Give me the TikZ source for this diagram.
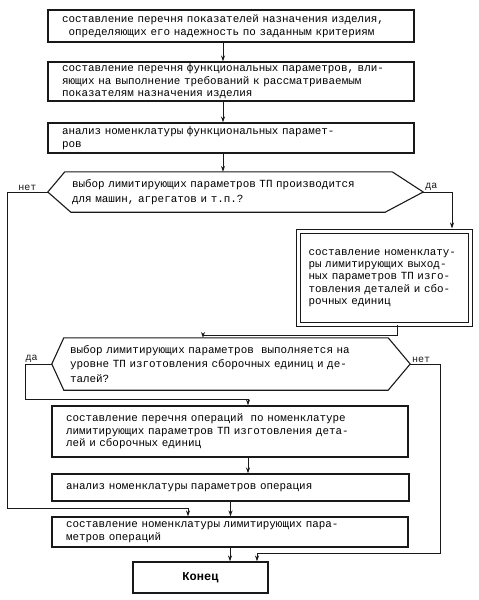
\documentclass[tikz,border=0pt]{standalone}
\usepackage{fontspec}
\setmainfont{Liberation Mono}
\usepackage{tikz}
\usetikzlibrary{arrows.meta, positioning, calc}
\definecolor{myink}{RGB}{25,25,25}
\tikzset{
  block/.style={rectangle, draw=myink, align=left, inner xsep=14pt, inner ysep=2pt,
    font=\fontsize{10.9}{12.5}\selectfont, line width=1.1pt},
  dblock/.style={rectangle, draw=myink, double, double distance=3pt,
    line width=1pt, align=left, inner xsep=10pt,
    font=\fontsize{10.9}{12.2}\selectfont},
  choice/.style={rectangle, align=left, inner xsep=7pt,
    font=\fontsize{10.9}{14.5}\selectfont},
  endblock/.style={rectangle, draw=myink, line width=1.1pt,
    font=\fontsize{12}{14}\selectfont\bfseries},
  hexline/.style={line width=1.1pt, color=myink},
  arrow/.style={-{Stealth[length=6pt,width=4pt]}, line width=0.9pt, color=myink},
  tag/.style={font=\fontsize{10}{12}\selectfont, inner sep=1pt}
}

\begin{document}
\begin{tikzpicture}[x=1pt, y=-1pt]
  \useasboundingbox (0,0) rectangle (479,600);

  % Main steps
  \node[block, text width=338pt, minimum height=32pt] (b1) at (231,26)
    {составление перечня показателей назначения изделия,\\
     \hspace*{6.5pt}определяющих его надежность по заданным критериям};
  \node[block, text width=338pt, minimum height=37pt] (b2) at (231,81.5)
    {составление перечня функциональных параметров, вли-\\
     яющих на выполнение требований к рассматриваемым\\
     показателям назначения изделия};
  \node[block, text width=338pt, minimum height=30pt] (b3) at (231,138)
    {анализ номенклатуры функциональных парамет-\\ров};

  % First choice
  \node[choice, text width=313pt, minimum height=40pt] (d1) at (228.5,192)
    {выбор лимитирующих параметров ТП производится\\
     для машин, агрегатов и т.п.?};
  \coordinate (d1l) at ([xshift=-17pt]d1.west);
  \coordinate (d1r) at ([xshift=31pt]d1.east);
  \draw[hexline] (d1.north west) -- (d1.north east) -- (d1r)
    -- ([xshift=-7pt]d1.south east) -- ([xshift=6pt]d1.south west) -- (d1l) -- cycle;

  \node[dblock, text width=152pt, minimum height=93pt] (b4) at (384.5,278)
    {составление номенклату-\\
     ры лимитирующих выход-\\
     ных параметров ТП изго-\\
     товления деталей и сбо-\\
     рочных единиц};

  % Second choice
  \node[choice, text width=312pt, inner xsep=6pt, minimum height=52pt] (d2) at (226,364)
    {выбор лимитирующих параметров\ \ выполняется на\\
     уровне ТП изготовления сборочных единиц и де-\\
     талей?};
  \coordinate (d2l) at ([xshift=-12pt]d2.west);
  \coordinate (d2r) at ([xshift=22pt]d2.east);
  \draw[hexline] (d2.north west) -- (d2.north east) -- (d2r)
    -- (d2.south east) -- (d2.south west) -- (d2l) -- cycle;

  \node[block, text width=328pt, minimum height=51pt] (b5) at (230,431.5)
    {составление перечня операций\ \ по номенклатуре\\
     лимитирующих параметров ТП изготовления дета-\\
     лей и сборочных единиц};
  \node[block, text width=329pt, minimum height=27pt] (b6) at (230.5,487.5)
    {анализ номенклатуры параметров операция};
  \node[block, text width=328pt, minimum height=30pt] (b7) at (230,532)
    {составление номенклатуры лимитирующих пара-\\
     метров операций};
  \node[endblock, minimum width=135pt, minimum height=31pt] (konec) at (200.5,577.5) {Конец};

  % Flow
  \draw[arrow] ([xshift=-8pt]b1.south) -- ([xshift=-8pt]b2.north);
  \draw[arrow] ([xshift=-8pt]b2.south) -- ([xshift=-8pt]b3.north);
  \draw[arrow] ([xshift=-8pt]b3.south) -- ([xshift=-5.5pt]d1.north);
  \draw[arrow] (d1l) -- node[tag, midway, above] {нет} (7,192) -- (7,508)
    -| ([xshift=-42pt]b7.north);
  \draw[arrow, shorten >=2.5pt] (d1r) -- node[tag, pos=0.28, above] {да} (452,192)
    -- ([xshift=67.5pt]b4.north);
  \draw[arrow] ([xshift=12.5pt]b4.south) -- ++(0,10.5) -| ([xshift=-23pt]d2.north);
  \draw[arrow] (d2l) -- node[tag, pos=0.75, above] {да} (25,364) -- (25,399)
    -| ([xshift=18pt]b5.north);
  \draw[arrow] (d2r) -- node[tag, pos=0.37, above] {нет} (440,364) -- (440,553)
    -| ([xshift=56.5pt]konec.north);
  \draw[arrow] ([xshift=18pt]b5.south) -- ([xshift=17.5pt]b6.north);
  \draw[arrow] (b6.south) -- (b6.south |- b7.north);
  \draw[arrow] (b7.south) -- (b7.south |- konec.north);
\end{tikzpicture}
\end{document}
